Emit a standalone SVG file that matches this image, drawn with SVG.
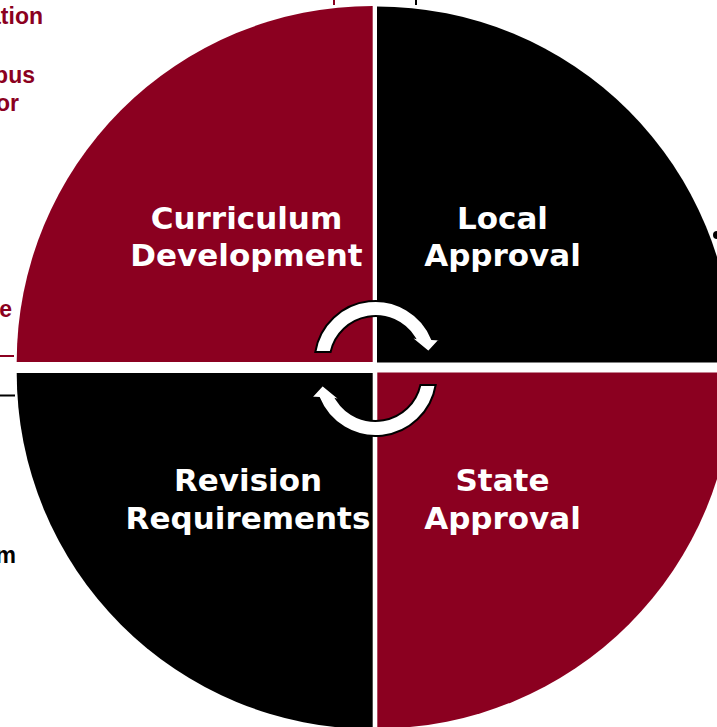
<svg xmlns="http://www.w3.org/2000/svg" width="717" height="727" viewBox="0 0 717 727">
<style>
.red{fill:#8B0020}
.blk{fill:#000000}
.lbl{font-family:"DejaVu Sans",Verdana,sans-serif;font-weight:bold;font-size:31px;fill:#ffffff;text-anchor:middle}
.side{font-family:"Liberation Sans",Arial,sans-serif;font-weight:bold;font-size:23px;text-anchor:end}
.arrow{fill:#ffffff;stroke:#000000;stroke-width:2;stroke-linejoin:miter}
</style>
<defs>
<path id="arr" d="M 315.3 352 A 61 61 0 0 1 432 339 L 440 339.5 L 428.5 352 L 409 336 L 414.4 337.5 A 46 46 0 0 0 330.6 352 Z"/>
</defs>
<rect width="717" height="727" fill="#ffffff"/>
<g id="side-fragments">
<text class="side" x="43" y="24" fill="#8B0020">ation</text>
<text class="side" x="35" y="83" fill="#8B0020">pus</text>
<text class="side" x="19" y="111" fill="#8B0020">or</text>
<text class="side" x="12" y="317" fill="#8B0020">e</text>
<text class="side" x="16" y="563" fill="#000000">m</text>
<rect x="0" y="355" width="14" height="2" class="red"/>
<rect x="0" y="394.5" width="15" height="2" class="blk"/>
<rect x="333" y="0" width="2" height="5" class="red"/>
<rect x="415" y="0" width="2" height="5" class="blk"/>
<circle cx="717" cy="235" r="4" class="blk"/>
</g>
<g id="curriculum-development">
<path class="red" d="M 372.7 362 L 16.7 362 A 356 356 0 0 1 372.7 6 Z"/>
<text class="lbl" x="246.5" y="229">Curriculum</text>
<text class="lbl" x="246.5" y="266">Development</text>
</g>
<g id="local-approval">
<path class="blk" d="M 377 362.5 L 377 6.5 A 356 356 0 0 1 733 362.5 Z"/>
<text class="lbl" x="502.5" y="229">Local</text>
<text class="lbl" x="502.5" y="266">Approval</text>
</g>
<g id="revision-requirements">
<path class="blk" d="M 372.7 373 L 372.7 729 A 356 356 0 0 1 16.7 373 Z"/>
<text class="lbl" x="248" y="491">Revision</text>
<text class="lbl" x="248" y="529">Requirements</text>
</g>
<g id="state-approval">
<path class="red" d="M 377.3 372.5 L 733.3 372.5 A 356 356 0 0 1 377.3 728.5 Z"/>
<text class="lbl" x="502.5" y="491">State</text>
<text class="lbl" x="502.5" y="529">Approval</text>
</g>
<g id="connectors">
<use href="#arr" class="arrow"/>
<use href="#arr" class="arrow" transform="rotate(180 375.5 368.5)"/>
</g>
</svg>
